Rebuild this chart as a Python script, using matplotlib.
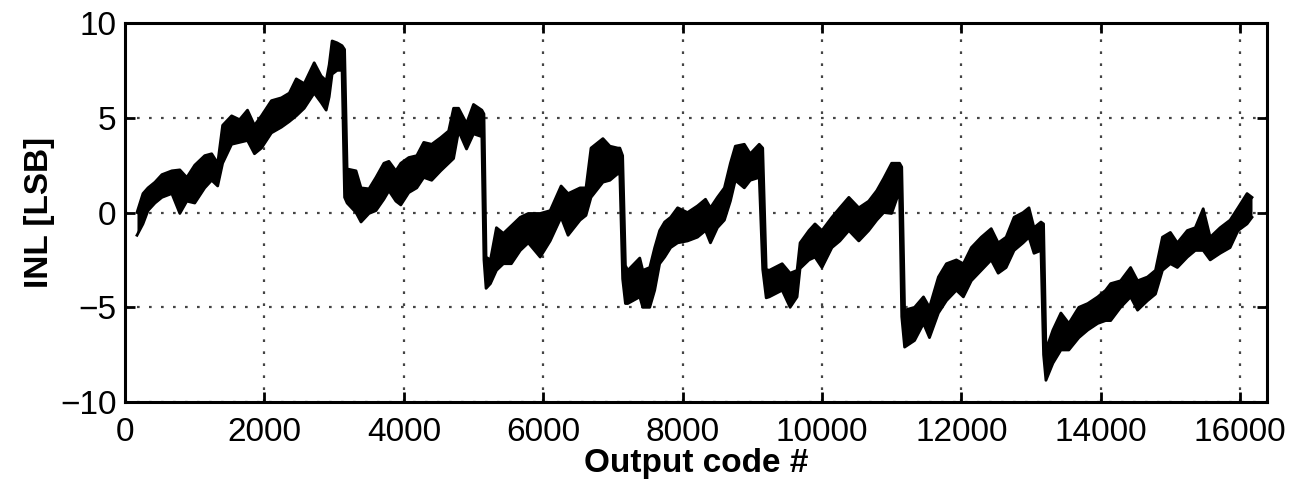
import matplotlib
matplotlib.use("Agg")
import matplotlib.pyplot as plt
import numpy as np

# Output code positions and upper/lower envelope of the INL trace (LSB)
codes = [171, 257, 329, 429, 529, 671, 786, 886, 1000, 1143, 1243, 1329, 1400, 1529, 1643,
         1757, 1857, 1957, 2100, 2243, 2357, 2457, 2571, 2714, 2814, 2886, 2929, 2971, 3043,
         3114, 3150, 3186, 3314, 3386, 3500, 3600, 3714, 3786, 3886, 3957, 4071, 4186, 4286,
         4400, 4529, 4643, 4714, 4786, 4900, 5000, 5120, 5150, 5180, 5243, 5329, 5429, 5543,
         5671, 5786, 5957, 6100, 6257, 6357, 6529, 6614, 6686, 6857, 6957, 7071, 7100, 7140,
         7180, 7214, 7386, 7429, 7529, 7600, 7671, 7743, 7829, 7929, 8071, 8214, 8329, 8400,
         8500, 8600, 8686, 8757, 8886, 8971, 9100, 9150, 9200, 9243, 9429, 9543, 9643, 9686,
         9814, 9900, 10000, 10143, 10257, 10386, 10529, 10671, 10786, 10886, 11000, 11114,
         11145, 11186, 11329, 11457, 11543, 11671, 11786, 11929, 12029, 12143, 12286, 12429,
         12529, 12643, 12757, 12886, 12971, 13043, 13143, 13180, 13214, 13314, 13429, 13543,
         13686, 13814, 13957, 14071, 14143, 14286, 14429, 14529, 14671, 14786, 14886, 15000,
         15100, 15243, 15357, 15471, 15571, 15714, 15857, 15971, 16100, 16171]

inl_hi = [0.0, 1.0, 1.3, 1.6, 2.0, 2.2, 2.25, 1.85, 2.5, 3.0, 3.1, 2.6, 4.6, 5.1, 4.9,
          5.4, 4.6, 5.1, 5.9, 6.05, 6.3, 7.05, 6.8, 7.9, 7.2, 6.95, 7.8, 9.05, 8.95,
          8.8, 8.6, 2.3, 2.2, 1.3, 1.25, 1.85, 2.6, 2.7, 2.2, 2.6, 2.9, 3.0, 3.7,
          3.6, 3.95, 4.3, 5.5, 5.5, 4.7, 5.7, 5.4, 5.2, -2.35, -2.5, -0.8, -1.1, -0.7,
          -0.25, -0.05, -0.05, 0.1, 1.4, 1.0, 1.3, 1.3, 3.4, 3.9, 3.5, 3.4, 3.4, 3.0,
          -2.8, -3.05, -2.4, -3.05, -2.9, -1.85, -0.95, -0.5, -0.25, 0.25, 0.0, 0.35, 0.7, 0.25,
          0.8, 1.3, 2.6, 3.5, 3.6, 3.1, 3.6, 3.4, -3.0, -3.05, -2.7, -3.2, -3.05, -1.6,
          -0.95, -0.6, -0.95, -0.25, 0.25, 0.8, 0.25, 0.6, 1.15, 1.8, 2.6, 2.6,
          2.4, -5.15, -5.0, -4.45, -5.0, -3.4, -2.7, -2.5, -2.7, -1.85, -1.3, -0.85,
          -1.6, -1.3, -0.25, 0.0, 0.25, -0.8, -0.5, -0.6, -7.25, -6.2, -5.3, -5.85,
          -5.0, -4.8, -4.45, -4.1, -3.75, -3.6, -2.9, -3.6, -3.4, -3.05, -1.3, -1.05,
          -1.6, -0.95, -0.8, 0.2, -1.3, -0.8, -0.4, 0.25, 1.0, 0.8]

inl_lo = [-1.2, -0.6, 0.1, 0.5, 0.8, 1.0, -0.05, 0.6, 0.5, 1.3, 1.7, 1.4, 2.6, 3.6, 3.7,
          3.8, 3.1, 3.4, 4.2, 4.5, 4.8, 5.1, 5.5, 6.3, 5.8, 5.4, 6.1, 7.3, 7.5,
          7.5, 0.8, 0.5, 0.0, -0.5, -0.05, 0.1, 0.7, 1.15, 0.6, 0.4, 1.05, 1.3, 1.85,
          1.7, 2.2, 2.6, 2.85, 4.3, 3.35, 4.15, 4.0, -2.5, -4.0, -3.75, -3.05, -2.7, -2.7,
          -2.0, -1.6, -2.35, -1.5, -0.25, -1.2, -0.4, -0.15, 0.8, 1.6, 1.7, 2.05, 2.0, -3.5,
          -4.8, -4.8, -4.45, -5.0, -5.0, -4.1, -2.7, -2.35, -1.85, -1.6, -1.5, -1.3, -0.95, -1.6,
          -0.8, -0.4, 0.6, 1.7, 1.3, 1.7, 1.85, -3.0, -4.5, -4.45, -4.1, -5.0, -4.45, -2.95,
          -2.5, -2.35, -2.9, -1.85, -1.5, -0.95, -1.5, -0.95, -0.4, 0.0, -0.05, 1.15,
          -5.5, -7.1, -6.75, -5.85, -6.6, -5.3, -4.65, -4.1, -4.45, -3.6, -3.05, -2.5,
          -3.2, -2.9, -2.0, -1.6, -1.3, -2.15, -2.0, -7.5, -8.85, -7.95, -7.25, -7.25,
          -6.6, -6.2, -5.85, -5.7, -5.7, -5.0, -4.45, -5.15, -4.65, -4.3, -3.05, -2.7,
          -2.9, -2.35, -2.0, -2.0, -2.5, -2.15, -1.85, -0.95, -0.6, -0.25]

xticks = [0, 2000, 4000, 6000, 8000, 10000, 12000, 14000, 16000]
yticks = [-10, -5, 0, 5, 10]

plt.rcParams['font.family'] = ['Liberation Sans', 'DejaVu Sans']

fig = plt.figure(figsize=(12.96, 4.88), dpi=100)
ax = fig.add_axes([0.0965, 0.176, 0.881, 0.777])

ax.fill_between(codes, inl_lo, inl_hi, color='black', linewidth=0)
ax.plot(codes, inl_hi, color='black', lw=2.0, solid_joinstyle='round')
ax.plot(codes, inl_lo, color='black', lw=2.0, solid_joinstyle='round')

ax.set_xlim(0, 16384)
ax.set_ylim(-10, 10)
ax.set_xticks(xticks)
ax.set_yticks(yticks)
ax.grid(True, color='#444444', linestyle=(0, (1.2, 4.2)), linewidth=1.6)
ax.set_axisbelow(True)

ax.tick_params(direction='in', length=7, width=2, labelsize=24,
               top=True, right=True)
ax.tick_params(axis='x', pad=11)
ax.tick_params(axis='y', pad=6)
for s in ax.spines.values():
    s.set_linewidth(2.2)

ax.set_xlabel('Output code #', fontsize=24, fontweight='bold', labelpad=0)
ax.set_ylabel('INL [LSB]', fontsize=24, fontweight='bold', labelpad=4)

fig.savefig('out.png', dpi=100)
